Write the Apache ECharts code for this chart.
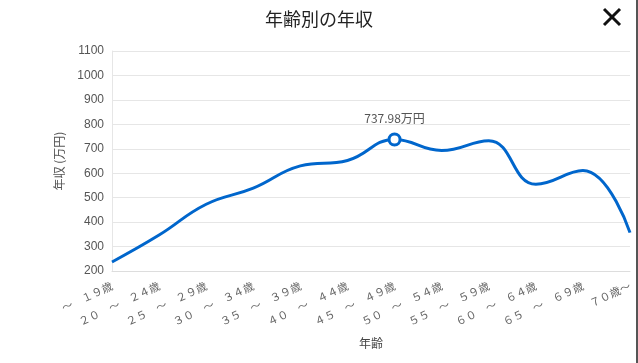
<!DOCTYPE html>
<html>
<head>
<meta charset="utf-8">
<script src="https://cdn.jsdelivr.net/npm/echarts@6/dist/echarts.min.js"></script>
<style>
  html, body { margin: 0; padding: 0; background: #fff; }
  #chart { width: 638px; height: 363px; }
</style>
</head>
<body>
<div id="chart"></div>
<script>
// Age brackets (full-width digits, as displayed)
const ageGroups = [
  '～　１９歳', '２０　～　２４歳', '２５　～　２９歳', '３０　～　３４歳',
  '３５　～　３９歳', '４０　～　４４歳', '４５　～　４９歳', '５０　～　５４歳',
  '５５　～　５９歳', '６０　～　６４歳', '６５　～　６９歳', '７０歳～'
];
// Average annual income per bracket (万円)
const incomes = [237, 347, 473, 539, 630, 652, 737.98, 693, 733, 555, 611, 357];
// Bracket whose value is highlighted
const highlightIndex = 6;

const yTicks = { min: 200, max: 1100, interval: 100 };

const chart = echarts.init(document.getElementById('chart'));
const font = '"Noto Sans CJK JP", "Noto Sans", sans-serif';
const numFont = '"Liberation Sans", Arial, sans-serif';

const seriesData = incomes.map((v, i) => {
  if (i !== highlightIndex) return v;
  return {
    value: v,
    symbol: 'circle',
    symbolSize: 11,
    itemStyle: { color: '#fff', borderColor: '#0066cc', borderWidth: 3 },
    label: {
      show: true,
      position: 'top',
      distance: 8,
      formatter: p => p.value + '万円',
      color: '#555',
      fontSize: 12,
      fontFamily: font
    }
  };
});

chart.setOption({
  animation: false,
  title: {
    text: '年齢別の年収',
    left: 'center',
    top: 5,
    textStyle: { fontSize: 18, fontWeight: 'normal', color: '#222', fontFamily: font }
  },
  grid: { left: 112, right: 8, top: 51, bottom: 92, containLabel: false },
  xAxis: {
    type: 'category',
    data: ageGroups,
    boundaryGap: false,
    name: '年齢',
    nameLocation: 'middle',
    nameGap: 66,
    nameTextStyle: { color: '#444', fontSize: 12, fontFamily: font },
    axisLine: { lineStyle: { color: '#ddd' } },
    axisTick: { show: false },
    axisLabel: {
      rotate: 25,
      interval: 0,
      color: '#666',
      fontSize: 11,
      fontFamily: font,
      margin: 14
    },
    splitLine: { show: false }
  },
  yAxis: {
    type: 'value',
    min: yTicks.min,
    max: yTicks.max,
    interval: yTicks.interval,
    name: '年収 (万円)',
    nameLocation: 'middle',
    nameGap: 47,
    nameRotate: 90,
    nameTextStyle: { color: '#555', fontSize: 12, fontFamily: font },
    axisLine: { show: true, lineStyle: { color: '#e6e6e6' } },
    axisTick: { show: false },
    axisLabel: {
      color: '#555', fontSize: 12, fontFamily: numFont, margin: 8,
      formatter: v => String(v)
    },
    splitLine: { lineStyle: { color: '#e6e6e6' } }
  },
  series: [{
    type: 'line',
    data: seriesData,
    smooth: 0.45,
    symbol: 'none',
    showSymbol: true,
    lineStyle: { color: '#0066cc', width: 3 },
    itemStyle: { color: '#0066cc' }
  }],
  graphic: [
    // close button
    { type: 'line', shape: { x1: 604, y1: 9, x2: 620, y2: 25 }, style: { stroke: '#111', lineWidth: 3 } },
    { type: 'line', shape: { x1: 620, y1: 9, x2: 604, y2: 25 }, style: { stroke: '#111', lineWidth: 3 } },
    // panel edge
    { type: 'rect', shape: { x: 636, y: 0, width: 2, height: 363 }, style: { fill: '#555' } }
  ]
});
</script>
</body>
</html>
